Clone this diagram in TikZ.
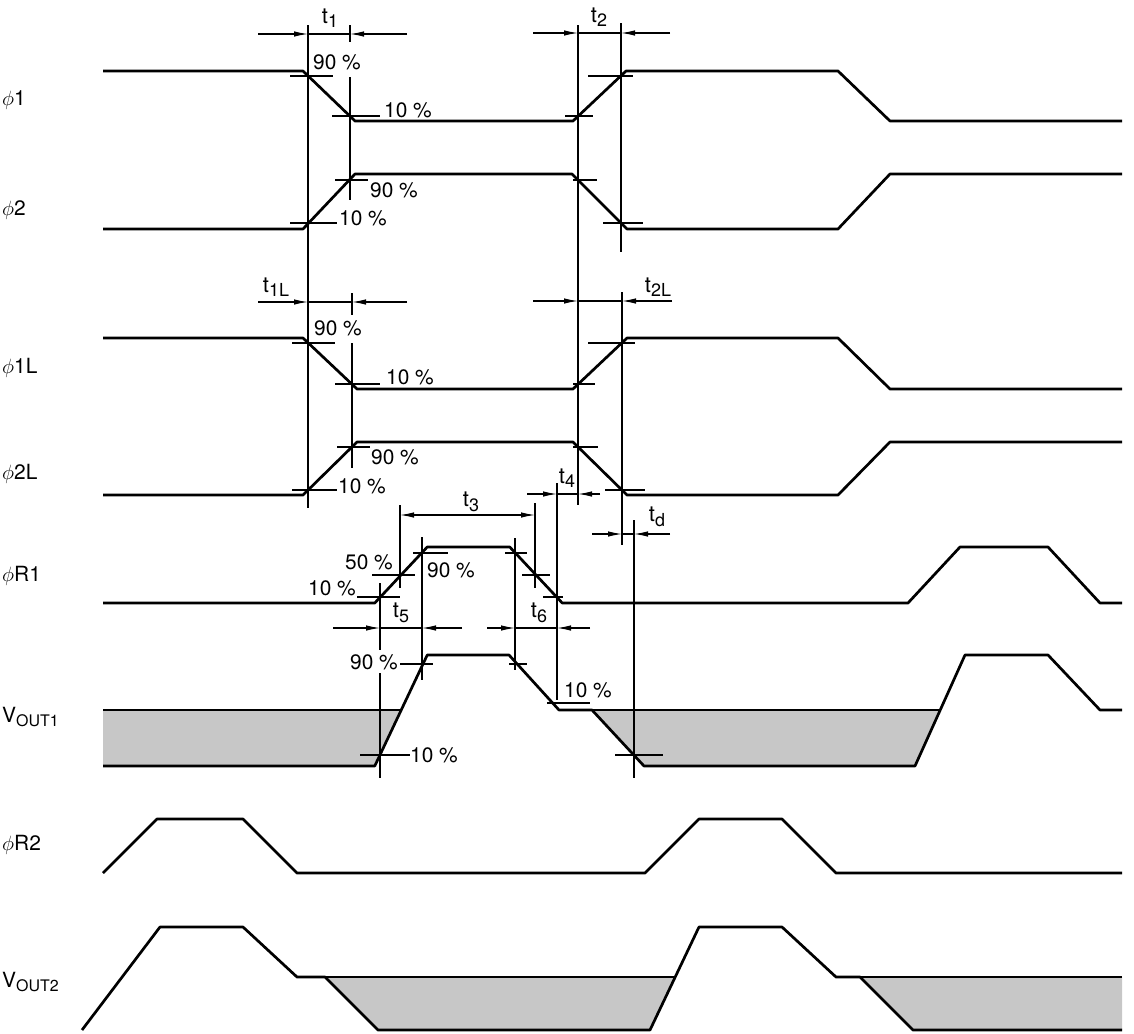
\documentclass[tikz,border=0pt]{standalone}
\usepackage{fontspec}
\setmainfont{TeX Gyre Heros}
\usetikzlibrary{arrows.meta}
\newcommand{\tlbl}[1]{t\raisebox{-0.4ex}{\fontsize{18}{19}\selectfont #1}}
\newcommand{\vlbl}[1]{V\raisebox{-0.3ex}{\fontsize{16}{17}\selectfont #1}}

\begin{document}
\begin{tikzpicture}[x=1bp,y=-1bp,>={Latex[length=14bp,width=5.5bp]},line join=bevel,
  sig/.style={line width=2.7bp},
  aux/.style={line width=1.1bp},
  band/.style={fill=black!22},
  pct/.style={font=\fontsize{21}{23}\selectfont,inner sep=0pt},
  tname/.style={font=\fontsize{22}{24}\selectfont,inner sep=0pt},
  sname/.style={font=\fontsize{21}{23}\selectfont,anchor=west,inner sep=0pt}]
\useasboundingbox (0,0) rectangle (1134,1034);
%%
  % Band: VOUT1 and VOUT2 (undefined level)
  \fill[band] (103,710) -- (401.2,710) -- (374.75,766) -- (103,766) -- cycle;
  \fill[band] (592,710) -- (940.2,710) -- (915,766) -- (644,766) -- cycle;
  \fill[band] (325,977) -- (675.2,977) -- (650,1030) -- (378,1030) -- cycle;
  \fill[band] (860,977) -- (1122,977) -- (1122,1030) -- (913,1030) -- cycle;
  % Signal: phi1
  \draw[sig] (103,71) -- (303,71) -- (355,121) -- (573,121) -- (626,71) -- (838,71) -- (890,121) -- (1122,121);
  % Signal: phi2
  \draw[sig] (103,229) -- (303,229) -- (355,174) -- (572,174) -- (627,229) -- (838,229) -- (890,174) -- (1122,174);
  % Signal: phi1L
  \draw[sig] (103,338) -- (303,338) -- (357,389) -- (573,389) -- (627,338) -- (838,338) -- (890,389) -- (1122,389);
  % Signal: phi2L
  \draw[sig] (103,495) -- (303,495) -- (357,442) -- (573,442) -- (627,495) -- (838,495) -- (890,442) -- (1122,442);
  % Signal: phiR1
  \draw[sig] (103,603) -- (374.75,603) -- (427.25,547) -- (509.75,547) -- (562.25,603) -- (908,603) -- (960,547) -- (1048,547) -- (1100,603) -- (1122,603);
  % Signal: VOUT1
  \draw[sig] (103,766) -- (374.75,766) -- (427.25,655) -- (509,655) -- (559,710) -- (592,710) -- (644,766) -- (915,766) -- (965,655) -- (1048,655) -- (1100,710) -- (1122,710);
  \draw[sig] (103,710) -- (401.2,710);
  \draw[sig] (592,710) -- (940.2,710);
  % Signal: phiR2
  \draw[sig] (103,873) -- (157,819) -- (243,819) -- (297,873) -- (645,873) -- (699,819) -- (782,819) -- (836,873) -- (1122,873);
  % Signal: VOUT2
  \draw[sig] (82,1030) -- (160,927) -- (243,927) -- (297,977) -- (325,977) -- (378,1030) -- (650,1030) -- (699,927) -- (782,927) -- (836,977) -- (860,977) -- (913,1030) -- (1122,1030);
  \draw[sig] (325,977) -- (675.2,977);
  \draw[sig] (860,977) -- (1122,977);
%%
  % Guide lines
  \draw[aux] (308,25) -- (308,508);
  \draw[aux] (350,25) -- (350,42);
  \draw[aux] (350,77) -- (350,200);
  \draw[aux] (352,293) -- (352,315);
  \draw[aux] (352,343) -- (352,468);
  \draw[aux] (578,25) -- (578,505);
  \draw[aux] (621,23) -- (621,252);
  \draw[aux] (622,292) -- (622,545);
  \draw[aux] (400,505) -- (400,588);
  \draw[aux] (535,503) -- (535,588);
  \draw[aux] (380,583) -- (380,650);
  \draw[aux] (380,673) -- (380,778);
  \draw[aux] (422,537) -- (422,680);
  \draw[aux] (515,538) -- (515,670);
  \draw[aux] (557,483) -- (557,700);
  \draw[aux] (634,520) -- (634,778);
  % Level marks: phi1, phi2
  \draw[aux] (290,76) -- (333,76);
  \draw[aux] (332,116) -- (380,116);
  \draw[aux] (565,116) -- (593,116);
  \draw[aux] (588,76) -- (633,76);
  \draw[aux] (290,223) -- (337,223);
  \draw[aux] (335,180) -- (368,180);
  \draw[aux] (573,180) -- (597,180);
  \draw[aux] (603,223) -- (643,223);
  % Level marks: phi1L, phi2L
  \draw[aux] (292,343) -- (335,343);
  \draw[aux] (335,384) -- (380,384);
  \draw[aux] (573,384) -- (595,384);
  \draw[aux] (588,343) -- (635,343);
  \draw[aux] (292,490) -- (337,490);
  \draw[aux] (337,447) -- (370,447);
  \draw[aux] (573,447) -- (598,447);
  \draw[aux] (605,490) -- (645,490);
  % Level marks: phiR1, VOUT1
  \draw[aux] (357,597) -- (400,597);
  \draw[aux] (372,575) -- (415,575);
  \draw[aux] (413,553) -- (448,553);
  \draw[aux] (505,553) -- (527,553);
  \draw[aux] (522,575) -- (550,575);
  \draw[aux] (543,597) -- (563,597);
  \draw[aux] (400,664) -- (433,664);
  \draw[aux] (509,664) -- (527,664);
  \draw[aux] (360,755) -- (410,755);
  \draw[aux] (547,703) -- (590,703);
  \draw[aux] (615,755) -- (663,755);
%%
  % Time: t1
  \draw[aux,->] (258,34) -- (308,34);
  \draw[aux,->] (407,34) -- (350,34);
  \draw[aux] (308,34) -- (350,34);
  % Time: t2
  \draw[aux,->] (533,33) -- (578,33);
  \draw[aux,->] (670,33) -- (621,33);
  \draw[aux] (578,33) -- (621,33);
  % Time: t1L
  \draw[aux,->] (258,302) -- (308,302);
  \draw[aux,->] (407,302) -- (352,302);
  \draw[aux] (308,302) -- (352,302);
  % Time: t2L
  \draw[aux,->] (533,301) -- (578,301);
  \draw[aux,->] (672,301) -- (622,301);
  \draw[aux] (578,301) -- (622,301);
  % Time: t4
  \draw[aux,->] (527,494) -- (557,494);
  \draw[aux,->] (600,494) -- (578,494);
  \draw[aux] (557,494) -- (578,494);
  % Time: t3
  \draw[aux,<->] (400,515) -- (535,515);
  % Time: td
  \draw[aux,->] (592,534) -- (622,534);
  \draw[aux,->] (670,534) -- (634,534);
  \draw[aux] (622,534) -- (634,534);
  % Time: t5
  \draw[aux,->] (333,628) -- (380,628);
  \draw[aux,->] (462,628) -- (422,628);
  \draw[aux] (380,628) -- (422,628);
  % Time: t6
  \draw[aux,->] (487,628) -- (515,628);
  \draw[aux,->] (590,628) -- (557,628);
  \draw[aux] (515,628) -- (557,628);
%%
  % Node: time labels
  \node[tname] (tone) at (330,18) {\tlbl{1}};
  \node[tname] (ttwo) at (599,17) {\tlbl{2}};
  \node[tname] (toneL) at (276,287) {\tlbl{1L}};
  \node[tname] (ttwoL) at (658,287) {\tlbl{2L}};
  \node[tname] (tthree) at (471,502) {\tlbl{3}};
  \node[tname] (tfour) at (567,478) {\tlbl{4}};
  \node[tname] (tdel) at (657,517) {\tlbl{d}};
  \node[tname] (tfive) at (401,613) {\tlbl{5}};
  \node[tname] (tsix) at (539,613) {\tlbl{6}};
  % Node: level labels
  \node[pct] (pa) at (337,62) {90 \%};
  \node[pct] (pb) at (408,110) {10 \%};
  \node[pct] (pc) at (363,218) {10 \%};
  \node[pct] (pd) at (394,190) {90 \%};
  \node[pct] (pe) at (338,328) {90 \%};
  \node[pct] (pf) at (410,377) {10 \%};
  \node[pct] (pg) at (362,486) {10 \%};
  \node[pct] (ph) at (395,457) {90 \%};
  \node[pct] (pi) at (332,588) {10 \%};
  \node[pct] (pj) at (369,562) {50 \%};
  \node[pct] (pk) at (451,570) {90 \%};
  \node[pct] (pl) at (374,662) {90 \%};
  \node[pct] (pm) at (434,755) {10 \%};
  \node[pct] (pn) at (588,690) {10 \%};
  % Node: signal names
  \node[sname] (nphione) at (2,100) {$\phi$1};
  \node[sname] (nphitwo) at (2,210) {$\phi$2};
  \node[sname] (nphioneL) at (2,368) {$\phi$1L};
  \node[sname] (nphitwoL) at (2,474) {$\phi$2L};
  \node[sname] (nphiRone) at (2,576) {$\phi$R1};
  \node[sname] (nvone) at (2,717) {\vlbl{OUT1}};
  \node[sname] (nphiRtwo) at (2,845) {$\phi$R2};
  \node[sname] (nvtwo) at (2,982) {\vlbl{OUT2}};
%
\end{tikzpicture}
\end{document}
